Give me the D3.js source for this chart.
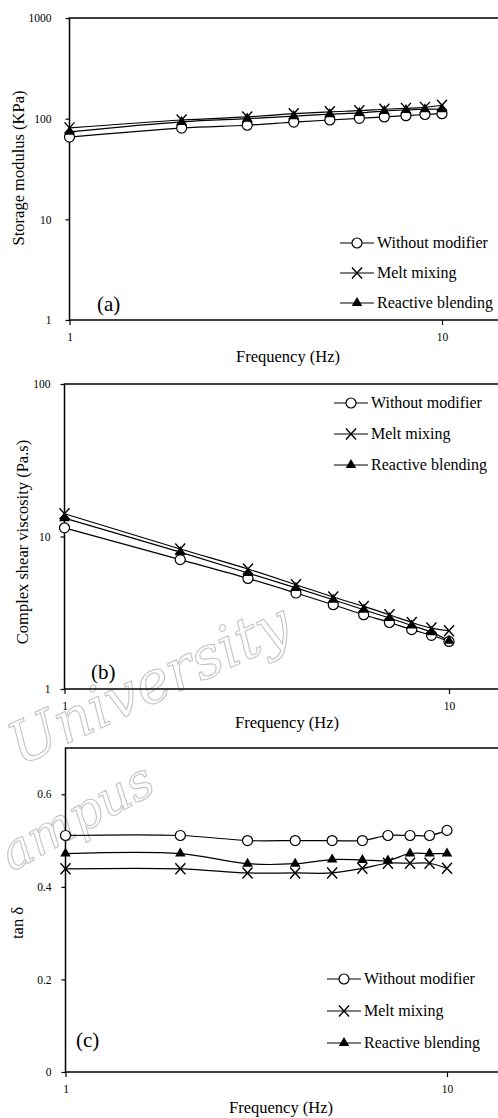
<!DOCTYPE html>
<html>
<head>
<meta charset="utf-8">
<script src="https://cdn.jsdelivr.net/npm/d3@7"></script>
<style>
  body { margin: 0; background: #fff; }
  svg { display: block; font-family: "Liberation Serif", "DejaVu Serif", serif; }
</style>
</head>
<body>
<svg id="chart" width="498" height="1118"></svg>
<script>
// frequency sweep, Hz
var freq = [1, 2, 3, 4, 5, 6, 7, 8, 9, 10];

var seriesNames = ['Without modifier', 'Melt mixing', 'Reactive blending'];

// (a) storage modulus, KPa
var storageWithout = [65.6, 80.7, 86, 92.5, 97, 100.7, 104, 107, 110, 112];
var storageMelt = [81, 97, 104, 112, 117, 120, 124, 126.5, 129.5, 136];
var storageReactive = [74, 93, 100, 106, 111, 114, 119, 122, 124, 124];

// (b) complex shear viscosity, Pa.s
var viscWithout = [11.4, 7.05, 5.31, 4.26, 3.57, 3.07, 2.73, 2.45, 2.25, 2.05];
var viscMelt = [14.1, 8.28, 6.12, 4.83, 4.01, 3.48, 3.07, 2.73, 2.51, 2.41];
var viscReactive = [13.2, 7.9, 5.76, 4.6, 3.85, 3.31, 2.92, 2.61, 2.36, 2.07];

// (c) tan delta
var tanWithout = [0.511, 0.511, 0.5, 0.5, 0.5, 0.5, 0.511, 0.511, 0.511, 0.522];
var tanMelt = [0.439, 0.439, 0.43, 0.43, 0.43, 0.44, 0.451, 0.451, 0.451, 0.44];
var tanReactive = [0.472, 0.472, 0.45, 0.45, 0.459, 0.458, 0.457, 0.472, 0.472, 0.472];

var xTicks = [1, 10];
var yTicksLog3 = [1, 10, 100, 1000];
var yTicksLog2 = [1, 10, 100];
var yTicksTan = [0, 0.2, 0.4, 0.6];

var svg = d3.select('#chart');
svg.append('rect').attr('width', 498).attr('height', 1118).attr('fill', '#fff');

// faint outlined watermark
var wm = svg.append('g')
  .style('font-family', '"DejaVu Serif", serif')
  .style('font-style', 'italic')
  .attr('fill', 'none')
  .attr('stroke', '#c4c4c4')
  .attr('stroke-width', 1.1);
wm.append('text').attr('transform', 'translate(20,766) rotate(-25)')
  .style('font-size', '58px').text('University');
wm.append('text').attr('transform', 'translate(12,872) rotate(-29)')
  .style('font-size', '50px').text('ampus');

function marker(g, kind) {
  if (kind == 0) {
    g.append('circle').attr('r', 5).attr('fill', '#fff')
      .attr('stroke', '#000').attr('stroke-width', 1.2);
  } else if (kind == 1) {
    g.append('path').attr('d', 'M-5,-5.5L5,5.5M-5,5.5L5,-5.5')
      .attr('stroke', '#000').attr('stroke-width', 1.4);
  } else {
    g.append('path').attr('d', d3.symbol().type(d3.symbolTriangle).size(48)())
      .attr('fill', '#000');
  }
}

function drawPanel(o) {
  var g = svg.append('g');
  var x = d3.scaleLog().domain([1, 10]).range(o.xr);
  var y = (o.log ? d3.scaleLog() : d3.scaleLinear()).domain(o.yd).range(o.yr);
  var left = o.xr[0], top = o.yr[1], bottom = o.yr[0];

  // frame (right side runs off the page)
  g.append('path')
    .attr('d', 'M520,' + top + 'H' + left + 'V' + bottom + 'H520')
    .attr('fill', 'none').attr('stroke', '#000').attr('stroke-width', 1.5);

  var ya = d3.axisLeft(y).tickValues(o.yTicks).tickSize(4).tickPadding(o.pad)
    .tickSizeOuter(0).tickFormat(o.fmt);
  g.append('g').attr('transform', 'translate(' + left + ',0)').call(ya)
    .call(function(s) { s.select('.domain').remove(); });

  var xa = d3.axisBottom(x).tickValues(xTicks).tickSize(5).tickPadding(8)
    .tickSizeOuter(0).tickFormat(d3.format('d'));
  g.append('g').attr('transform', 'translate(0,' + bottom + ')').call(xa)
    .call(function(s) { s.select('.domain').remove(); });

  g.selectAll('.tick text').style('font-size', '11.5px').style('font-family', '"Liberation Serif", serif');
  g.selectAll('.tick line').attr('stroke-width', 1.2);

  var line = d3.line()
    .x(function(d, i) { return x(freq[i]); })
    .y(function(d) { return y(d); })
    .curve(d3.curveCatmullRom.alpha(0.5));

  o.series.forEach(function(vals, k) {
    g.append('path').attr('d', line(vals))
      .attr('fill', 'none').attr('stroke', '#000').attr('stroke-width', 1.2);
  });
  o.series.forEach(function(vals, k) {
    vals.forEach(function(v, i) {
      marker(g.append('g').attr('transform', 'translate(' + x(freq[i]) + ',' + y(v) + ')'), k);
    });
  });

  // axis titles
  g.append('text').attr('x', o.xt[0]).attr('y', o.xt[1]).attr('text-anchor', 'middle')
    .style('font-size', '16.5px').text('Frequency (Hz)');
  g.append('text').attr('transform', 'translate(' + o.yt[0] + ',' + o.yt[1] + ') rotate(-90)')
    .attr('text-anchor', 'middle').style('font-size', '16.5px').text(o.yTitle);

  // panel letter
  g.append('text').attr('x', o.lab[0]).attr('y', o.lab[1])
    .style('font-size', '21px').text(o.letter);

  // legend
  seriesNames.forEach(function(name, k) {
    var ly = o.leg[1] + k * o.leg[2];
    var lx = o.leg[0];
    g.append('line').attr('x1', lx).attr('x2', lx + 34).attr('y1', ly).attr('y2', ly)
      .attr('stroke', '#000').attr('stroke-width', 1.2);
    marker(g.append('g').attr('transform', 'translate(' + (lx + 17) + ',' + ly + ')'), k);
    g.append('text').attr('x', lx + 37).attr('y', ly + 5).style('font-size', '16px').text(name);
  });
}

drawPanel({
  xr: [69.5, 442], log: true, yd: [1, 1000], yr: [320, 18], pad: 14,
  yTicks: yTicksLog3, fmt: d3.format('d'),
  series: [storageWithout, storageMelt, storageReactive],
  xt: [288, 362], yt: [24, 168], yTitle: 'Storage modulus (KPa)',
  lab: [97, 311], letter: '(a)', leg: [340, 243, 30]
});

drawPanel({
  xr: [64.5, 449], log: true, yd: [1, 100], yr: [689, 384], pad: 10,
  yTicks: yTicksLog2, fmt: d3.format('d'),
  series: [viscWithout, viscMelt, viscReactive],
  xt: [287, 728], yt: [28, 542], yTitle: 'Complex shear viscosity (Pa.s)',
  lab: [91, 679], letter: '(b)', leg: [334, 403, 31]
});

drawPanel({
  xr: [65.5, 447], log: false, yd: [0, 0.7], yr: [1072, 748], pad: 10,
  yTicks: yTicksTan, fmt: function(d) { return d === 0 ? '0' : d3.format('.1f')(d); },
  series: [tanWithout, tanMelt, tanReactive],
  xt: [281, 1113], yt: [23, 923], yTitle: 'tan δ',
  lab: [76, 1047], letter: '(c)', leg: [327, 979, 32]
});
</script>
</body>
</html>
